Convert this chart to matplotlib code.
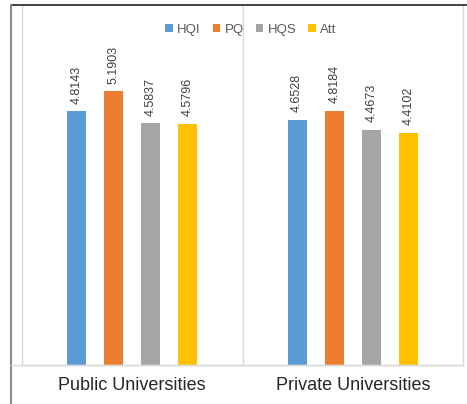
import matplotlib
matplotlib.use("Agg")
import matplotlib.pyplot as plt
from matplotlib.lines import Line2D
from matplotlib.patches import Patch
import numpy as np

# data
categories = ["Public Universities", "Private Universities"]
series = ["HQI", "PQ", "HQS", "Att"]
hqi = [4.8143, 4.6528]
pq = [5.1903, 4.8184]
hqs = [4.5837, 4.4673]
att = [4.5796, 4.4102]
colors = ["#5B9BD5", "#ED7D31", "#A5A5A5", "#FFC000"]

plt.rcParams['font.family'] = ['Liberation Sans', 'DejaVu Sans']

W, H = 467, 404
fig = plt.figure(figsize=(W / 100, H / 100), dpi=100)

# plot area in pixel coords
left, right, top, bottom = 22, 463, 5, 365
ax = fig.add_axes([left / W, (H - bottom) / H, (right - left) / W, (bottom - top) / H])

x = np.arange(len(categories)) + 0.5
spacing = 0.168
width = 0.086
values = [hqi, pq, hqs, att]
for i, (name, vals, c) in enumerate(zip(series, values, colors)):
    xs = x + (i - 1.5) * spacing
    ax.bar(xs, vals, width=width, color=c, label=name, zorder=2)
    for xi, v in zip(xs, vals):
        ax.annotate(f"{v:.4f}", (xi, v), xytext=(0, 5.5), textcoords="offset points",
                    rotation=90, ha="center", va="bottom", fontsize=9, color="#404040")

ax.set_xlim(0, len(categories))
ax.set_ylim(0, 6.83)
ax.axvline(1.0, color="#D9D9D9", lw=1)
ax.set_xticks([])
ax.set_yticks([])
for s in ["left", "right", "bottom"]:
    ax.spines[s].set_color("#D9D9D9")
    ax.spines[s].set_linewidth(1)
ax.spines["top"].set_visible(False)

for xi, cat in zip(x, categories):
    ax.text(xi, -0.39, cat, ha="center", va="center", fontsize=13, color="#262626",
            transform=ax.transData, clip_on=False)

# outer frame lines
fig.add_artist(Line2D([10.5 / W, 1], [(H - 5) / H] * 2, color="#222222", lw=1.2))
fig.add_artist(Line2D([10.5 / W] * 2, [0, (H - 5) / H], color="#8A8A8A", lw=1.5))
fig.add_artist(Line2D([10.5 / W, right / W], [(H - bottom) / H] * 2, color="#D9D9D9", lw=1))

handles = [Patch(facecolor=c, label=n) for n, c in zip(series, colors)]
fig.legend(handles=handles, loc="center", bbox_to_anchor=(251 / W, (H - 30) / H), ncol=4,
           frameon=False, fontsize=9.5, handlelength=0.55, handleheight=0.55,
           handletextpad=0.35, columnspacing=0.9, labelcolor="#595959")

fig.savefig("out.png", dpi=100)
